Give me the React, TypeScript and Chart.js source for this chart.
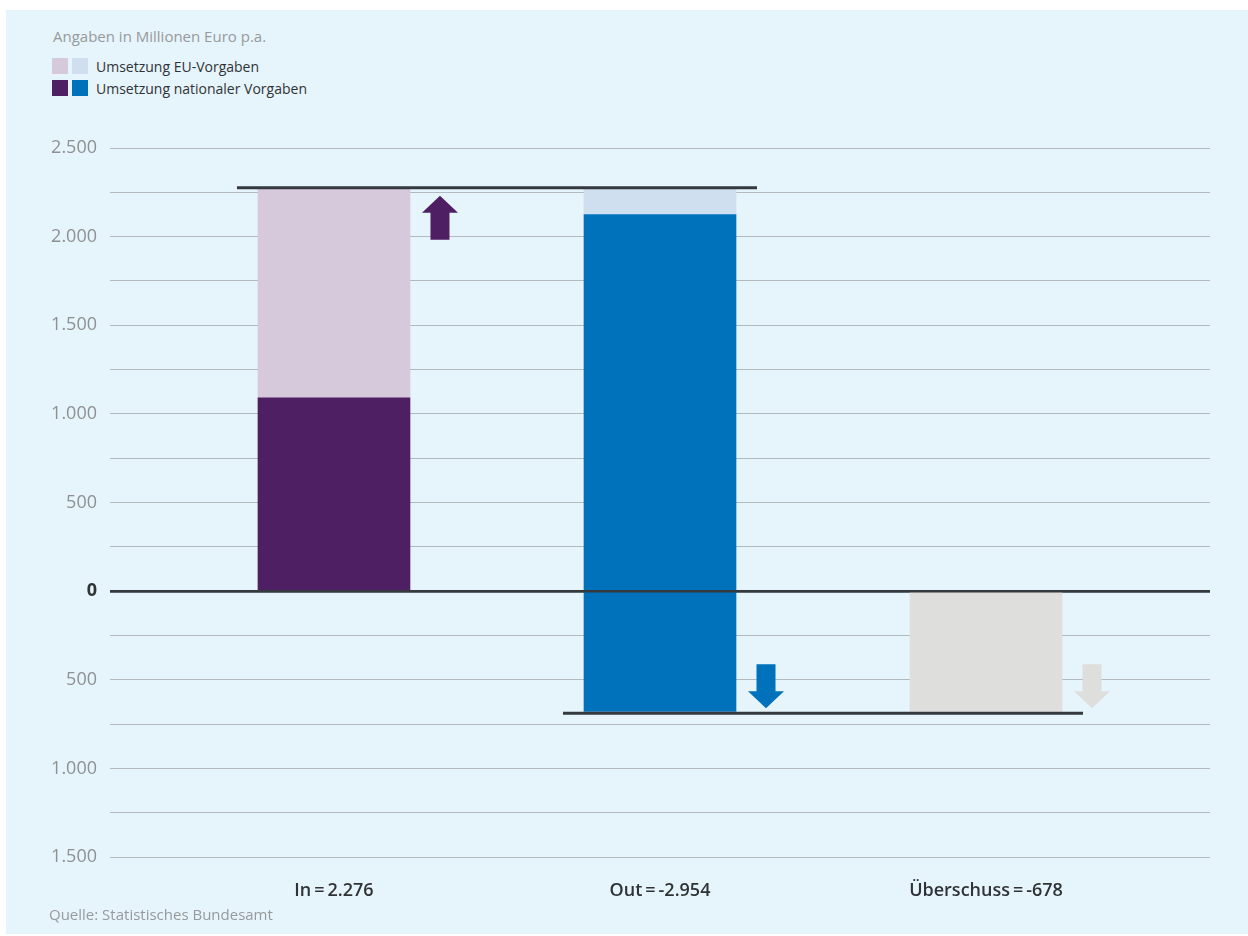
import React, { useEffect, useRef } from "react";
import { Chart, registerables } from "chart.js";

Chart.register(...registerables);

// ---- data ----
const CATEGORIES = ["In\u2009=\u20092.276", "Out\u2009=\u2009-2.954", "Überschuss\u2009=\u2009-678"];
const IN_TOTAL = 2276;
const SURPLUS = -678;
const EU_SPLIT_OUT = 2125; // top of national part of Out bar
const NATIONAL_IN = 1090;

// floating bars [from, to] per category
const NATIONAL_BARS: ([number, number] | null)[] = [[0, NATIONAL_IN], [SURPLUS, EU_SPLIT_OUT], null];
const EU_BARS: ([number, number] | null)[] = [[NATIONAL_IN, IN_TOTAL], [EU_SPLIT_OUT, IN_TOTAL], null];
const SURPLUS_BARS: ([number, number] | null)[] = [null, null, [SURPLUS, 0]];

const NATIONAL_COLORS = ["#4f1f63", "#0072bb", "#0072bb"];
const EU_COLORS = ["#d6c9dc", "#cfdff0", "#cfdff0"];
const SURPLUS_COLOR = "#dededd";

// reference lines: level, spanning from bar index to bar index
const REF_LEVELS = [IN_TOTAL, SURPLUS];
const REF_FROM = [0, 1];
const REF_TO = [1, 2];

// arrows next to bars
const ARROW_DIRS = ["up", "down", "down"];
const ARROW_ANCHORS = [IN_TOTAL, SURPLUS, SURPLUS];
const ARROW_COLORS = ["#4f1f63", "#0072bb", "#dededd"];

const Y_MIN = -1500;
const Y_MAX = 2500;
const Y_STEP = 250;
const X_MIN = -0.687;
const X_MAX = 2.687;

const FONT = "'Open Sans', 'Noto Sans', sans-serif";
const BAR_W = 152;
const DARK = "#33393c";

function fmt(v: number) {
  const a = Math.abs(v);
  return a.toLocaleString("de-DE");
}

const overlayPlugin = {
  id: "overlay",
  afterDatasetsDraw(chart: any) {
    const ctx = chart.ctx;
    const ys = chart.scales.y;
    const area = chart.chartArea;
    const meta = chart.getDatasetMeta(0);
    const barEl = (i: number) => meta.data[i];
    ctx.save();
    // zero line over bars
    const y0 = ys.getPixelForValue(0);
    ctx.strokeStyle = DARK;
    ctx.lineWidth = 2.5;
    ctx.beginPath();
    ctx.moveTo(area.left, y0);
    ctx.lineTo(area.right, y0);
    ctx.stroke();
    // reference lines
    REF_LEVELS.forEach((lvl, k) => {
      const a = barEl(REF_FROM[k]);
      const b = barEl(REF_TO[k]);
      const x1 = a.x - BAR_W / 2 - 21;
      const x2 = b.x + BAR_W / 2 + 21;
      const y = ys.getPixelForValue(lvl) + (lvl > 0 ? 0 : 2);
      ctx.strokeStyle = DARK;
      ctx.lineWidth = 3;
      ctx.beginPath();
      ctx.moveTo(x1, y);
      ctx.lineTo(x2, y);
      ctx.stroke();
    });
    // arrows
    ARROW_DIRS.forEach((dir, i) => {
      const el = barEl(i);
      const cx = el.x + BAR_W / 2 + 30;
      const yA = ys.getPixelForValue(ARROW_ANCHORS[i]);
      const H = 44, headH = 17, headW = 36, shaftW = 19;
      ctx.fillStyle = ARROW_COLORS[i];
      ctx.beginPath();
      if (dir === "up") {
        const tip = yA + 8;
        ctx.moveTo(cx, tip);
        ctx.lineTo(cx + headW / 2, tip + headH);
        ctx.lineTo(cx + shaftW / 2, tip + headH);
        ctx.lineTo(cx + shaftW / 2, tip + H);
        ctx.lineTo(cx - shaftW / 2, tip + H);
        ctx.lineTo(cx - shaftW / 2, tip + headH);
        ctx.lineTo(cx - headW / 2, tip + headH);
      } else {
        const tip = yA - 3;
        ctx.moveTo(cx, tip);
        ctx.lineTo(cx + headW / 2, tip - headH);
        ctx.lineTo(cx + shaftW / 2, tip - headH);
        ctx.lineTo(cx + shaftW / 2, tip - H);
        ctx.lineTo(cx - shaftW / 2, tip - H);
        ctx.lineTo(cx - shaftW / 2, tip - headH);
        ctx.lineTo(cx - headW / 2, tip - headH);
      }
      ctx.closePath();
      ctx.fill();
    });
    ctx.restore();
  },
};

function toData(arr: ([number, number] | null)[]) {
  return arr.map((v, i) => ({ x: i, y: v ?? [0, 0] }));
}

export default function App() {
  const ref = useRef<HTMLCanvasElement | null>(null);
  useEffect(() => {
    if (!ref.current) return;
    const chart = new Chart(ref.current, {
      type: "bar",
      data: {
        datasets: [
          {
            label: "Umsetzung nationaler Vorgaben",
            data: toData(NATIONAL_BARS),
            backgroundColor: NATIONAL_COLORS,
            grouped: false,
            barThickness: BAR_W,
          } as any,
          {
            label: "Umsetzung EU-Vorgaben",
            data: toData(EU_BARS),
            backgroundColor: EU_COLORS,
            grouped: false,
            barThickness: BAR_W,
          } as any,
          {
            label: "Überschuss",
            data: toData(SURPLUS_BARS),
            backgroundColor: SURPLUS_COLOR,
            grouped: false,
            barThickness: BAR_W,
          } as any,
        ],
      },
      options: {
        responsive: false,
        animation: false,
        devicePixelRatio: 1,
        layout: { padding: { left: 0, right: 38, top: 148, bottom: 0 } },
        plugins: {
          legend: { display: false },
          tooltip: { enabled: false },
        },
        scales: {
          x: {
            type: "linear",
            offset: false,
            min: X_MIN,
            max: X_MAX,
            grid: { display: false, drawTicks: false },
            border: { display: false },
            afterBuildTicks: (scale: any) => {
              scale.ticks = CATEGORIES.map((_, i) => ({ value: i }));
            },
            afterFit: (scale: any) => {
              scale.height = 79;
            },
            ticks: {
              autoSkip: false,
              maxRotation: 0,
              padding: 23,
              color: "#2f3336",
              font: { family: FONT, size: 18, weight: "600" as any },
              callback: (v: any) => CATEGORIES[Math.round(Number(v))] ?? "",
            },
          },
          y: {
            type: "linear",
            min: Y_MIN,
            max: Y_MAX,
            afterFit: (scale: any) => {
              scale.width = 110;
            },
            border: { display: false },
            grid: {
              drawTicks: false,
              color: (c: any) => (c.tick && c.tick.value === 0 ? DARK : "#b3babd"),
              lineWidth: (c: any) => (c.tick && c.tick.value === 0 ? 2.5 : 1),
            },
            ticks: {
              stepSize: Y_STEP,
              padding: 13,
              autoSkip: false,
              color: (c: any) => (c.tick && c.tick.value === 0 ? "#2f3336" : "#8e9193"),
              font: (c: any) =>
                c.tick && c.tick.value === 0
                  ? { family: FONT, size: 18, weight: "bold" as any }
                  : { family: FONT, size: 18 },
              callback: (v: any) => (Number(v) % 500 === 0 ? fmt(Number(v)) : ""),
            },
          },
        },
      } as any,
      plugins: [overlayPlugin],
    });
    return () => chart.destroy();
  }, []);

  const sq = (c: string) => (
    <span style={{ display: "inline-block", width: 16, height: 16, background: c, marginRight: 4 }} />
  );

  return (
    <div style={{ position: "absolute", left: 0, top: 0, width: 1248, height: 936, background: "#ffffff", overflow: "hidden" }}>
      <div style={{ position: "absolute", left: 6, top: 10, width: 1242, height: 924, background: "#e6f4fb" }} />
      <div style={{ position: "absolute", left: 53, top: 26, fontFamily: FONT, fontSize: 15, color: "#979a9c", whiteSpace: "nowrap" }}>
        Angaben in Millionen Euro p.a.
      </div>
      <div style={{ position: "absolute", left: 52, top: 58, fontFamily: FONT, fontSize: 14, fontWeight: 500, color: "#2f3336", whiteSpace: "nowrap" }}>
        <div style={{ display: "flex", alignItems: "center", height: 16, marginBottom: 6 }}>
          {sq(EU_COLORS[0])}
          {sq(EU_COLORS[1])}
          <span style={{ marginLeft: 4 }}>Umsetzung EU-Vorgaben</span>
        </div>
        <div style={{ display: "flex", alignItems: "center", height: 16 }}>
          {sq(NATIONAL_COLORS[0])}
          {sq(NATIONAL_COLORS[1])}
          <span style={{ marginLeft: 4 }}>Umsetzung nationaler Vorgaben</span>
        </div>
      </div>
      <canvas ref={ref} width={1248} height={936} style={{ position: "absolute", left: 0, top: 0, width: 1248, height: 936 }} />
      <div style={{ position: "absolute", left: 49, top: 904, fontFamily: FONT, fontSize: 15, color: "#979a9c", whiteSpace: "nowrap" }}>
        Quelle: Statistisches Bundesamt
      </div>
    </div>
  );
}
